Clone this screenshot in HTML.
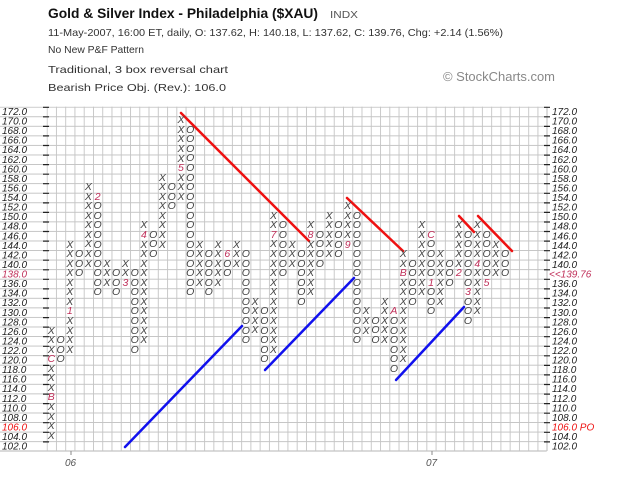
<!DOCTYPE html>
<html><head><meta charset="utf-8"><style>
body{margin:0;background:#fff;}
#w{position:relative;width:620px;height:479px;overflow:hidden;background:#fff;font-family:"Liberation Sans",sans-serif;}
svg{position:absolute;left:0;top:0;}
.c{position:absolute;width:9.26px;text-align:center;font:italic 10.5px "Liberation Sans",sans-serif;line-height:9.556px;color:#444;}
.c b{font-weight:normal;color:#c0305a;}
</style></head><body><div id="w">
<svg width="620" height="479" xmlns="http://www.w3.org/2000/svg">
<defs>
<pattern id="gv" x="46.7" y="0" width="9.26" height="479" patternUnits="userSpaceOnUse"><line x1="0.3" y1="0" x2="0.3" y2="479" stroke="#c4c4c4" stroke-width="1.2"/></pattern>
<pattern id="gh" x="0" y="106.7" width="620" height="9.556" patternUnits="userSpaceOnUse"><line x1="0" y1="0.3" x2="620" y2="0.3" stroke="#c4c4c4" stroke-width="1.2"/></pattern>
</defs>
<rect x="46.7" y="106.7" width="500" height="344" fill="url(#gv)"/>
<rect x="0" y="106.7" width="546.7" height="344.4" fill="url(#gh)"/>
<line x1="0" y1="451" x2="546.7" y2="451" stroke="#c4c4c4" stroke-width="1.2"/>
<line x1="547" y1="106.7" x2="547" y2="451" stroke="#c4c4c4" stroke-width="1.2"/>
<g stroke="#222" stroke-width="1.2">
<path d="M43 107.3h6M43 116.8h6M43 126.4h6M43 135.9h6M43 145.5h6M43 155.1h6M43 164.6h6M43 174.2h6M43 183.7h6M43 193.3h6M43 202.9h6M43 212.4h6M43 222h6M43 231.5h6M43 241.1h6M43 250.7h6M43 260.2h6M43 269.8h6M43 279.3h6M43 288.9h6M43 298.5h6M43 308h6M43 317.6h6M43 327.1h6M43 336.7h6M43 346.3h6M43 355.8h6M43 365.4h6M43 374.9h6M43 384.5h6M43 394.1h6M43 403.6h6M43 413.2h6M43 422.7h6M43 432.3h6M43 441.9h6"/>
<path d="M544 107.3h6M544 116.8h6M544 126.4h6M544 135.9h6M544 145.5h6M544 155.1h6M544 164.6h6M544 174.2h6M544 183.7h6M544 193.3h6M544 202.9h6M544 212.4h6M544 222h6M544 231.5h6M544 241.1h6M544 250.7h6M544 260.2h6M544 269.8h6M544 279.3h6M544 288.9h6M544 298.5h6M544 308h6M544 317.6h6M544 327.1h6M544 336.7h6M544 346.3h6M544 355.8h6M544 365.4h6M544 374.9h6M544 384.5h6M544 394.1h6M544 403.6h6M544 413.2h6M544 422.7h6M544 432.3h6M544 441.9h6"/>
</g>
<line x1="71" y1="451" x2="71" y2="455" stroke="#888"/>
<line x1="432" y1="451" x2="432" y2="455" stroke="#888"/>
<g font-family="Liberation Sans, sans-serif" font-style="italic" font-size="10" fill="#222">
<text x="2" y="115">172.0</text><text x="2" y="124.6">170.0</text><text x="2" y="134.1">168.0</text><text x="2" y="143.7">166.0</text><text x="2" y="153.2">164.0</text><text x="2" y="162.8">162.0</text><text x="2" y="172.4">160.0</text><text x="2" y="181.9">158.0</text><text x="2" y="191.5">156.0</text><text x="2" y="201">154.0</text><text x="2" y="210.6">152.0</text><text x="2" y="220.2">150.0</text><text x="2" y="229.7">148.0</text><text x="2" y="239.3">146.0</text><text x="2" y="248.8">144.0</text><text x="2" y="258.4">142.0</text><text x="2" y="268">140.0</text><text x="2" y="277.5" fill="#c0305a">138.0</text><text x="2" y="287.1">136.0</text><text x="2" y="296.6">134.0</text><text x="2" y="306.2">132.0</text><text x="2" y="315.8">130.0</text><text x="2" y="325.3">128.0</text><text x="2" y="334.9">126.0</text><text x="2" y="344.4">124.0</text><text x="2" y="354">122.0</text><text x="2" y="363.6">120.0</text><text x="2" y="373.1">118.0</text><text x="2" y="382.7">116.0</text><text x="2" y="392.2">114.0</text><text x="2" y="401.8">112.0</text><text x="2" y="411.4">110.0</text><text x="2" y="420.9">108.0</text><text x="2" y="430.5" fill="#ee1111">106.0</text><text x="2" y="440">104.0</text><text x="2" y="449.6">102.0</text>
<text x="552" y="115">172.0</text><text x="552" y="124.6">170.0</text><text x="552" y="134.1">168.0</text><text x="552" y="143.7">166.0</text><text x="552" y="153.2">164.0</text><text x="552" y="162.8">162.0</text><text x="552" y="172.4">160.0</text><text x="552" y="181.9">158.0</text><text x="552" y="191.5">156.0</text><text x="552" y="201">154.0</text><text x="552" y="210.6">152.0</text><text x="552" y="220.2">150.0</text><text x="552" y="229.7">148.0</text><text x="552" y="239.3">146.0</text><text x="552" y="248.8">144.0</text><text x="552" y="258.4">142.0</text><text x="552" y="268">140.0</text><text x="549" y="277.5" fill="#c0305a">&lt;&lt;139.76</text><text x="552" y="287.1">136.0</text><text x="552" y="296.6">134.0</text><text x="552" y="306.2">132.0</text><text x="552" y="315.8">130.0</text><text x="552" y="325.3">128.0</text><text x="552" y="334.9">126.0</text><text x="552" y="344.4">124.0</text><text x="552" y="354">122.0</text><text x="552" y="363.6">120.0</text><text x="552" y="373.1">118.0</text><text x="552" y="382.7">116.0</text><text x="552" y="392.2">114.0</text><text x="552" y="401.8">112.0</text><text x="552" y="411.4">110.0</text><text x="552" y="420.9">108.0</text><text x="552" y="430.5" fill="#ee1111">106.0 PO</text><text x="552" y="440">104.0</text><text x="552" y="449.6">102.0</text>
</g>
<g font-family="Liberation Sans, sans-serif" font-size="10" fill="#555" font-style="italic">
<text x="65" y="466">06</text><text x="426" y="466">07</text>
</g>
<g font-family="Liberation Sans, sans-serif">
<text x="48" y="18" font-size="14" font-weight="bold" fill="#111" textLength="270" lengthAdjust="spacingAndGlyphs">Gold &amp; Silver Index - Philadelphia ($XAU)</text>
<text x="330" y="18" font-size="10" fill="#555" textLength="28" lengthAdjust="spacingAndGlyphs">INDX</text>
<text x="48" y="36" font-size="10.5" fill="#333" textLength="455" lengthAdjust="spacingAndGlyphs">11-May-2007, 16:00 ET, daily, O: 137.62, H: 140.18, L: 137.62, C: 139.76, Chg: +2.14 (1.56%)</text>
<text x="48" y="53" font-size="10.5" fill="#333" textLength="96" lengthAdjust="spacingAndGlyphs">No New P&amp;F Pattern</text>
<text x="48" y="73" font-size="10.5" fill="#333" textLength="180" lengthAdjust="spacingAndGlyphs">Traditional, 3 box reversal chart</text>
<text x="48" y="91" font-size="10.5" fill="#333" textLength="178" lengthAdjust="spacingAndGlyphs">Bearish Price Obj. (Rev.): 106.0</text>
<text x="443" y="81" font-size="13" fill="#888" textLength="112" lengthAdjust="spacingAndGlyphs">© StockCharts.com</text>
</g>
<g stroke-width="2.5" stroke-linecap="round">
<line x1="181" y1="113" x2="309" y2="241" stroke="#ee1111"/>
<line x1="347" y1="198" x2="403" y2="251" stroke="#ee1111"/>
<line x1="459" y1="216" x2="474" y2="232" stroke="#ee1111"/>
<line x1="478" y1="216" x2="512" y2="251" stroke="#ee1111"/>
<line x1="125" y1="447" x2="242" y2="326" stroke="#1111ee"/>
<line x1="265" y1="370" x2="354" y2="278" stroke="#1111ee"/>
<line x1="396" y1="380" x2="464" y2="307" stroke="#1111ee"/>
</g>
</svg>
<div class="c" style="left:46.7px;top:326.5px">X<br>X<br>X<br><b>C</b><br>X<br>X<br>X<br><b>B</b><br>X<br>X<br>X<br>X</div>
<div class="c" style="left:55.96px;top:336px">O<br>O<br>O</div>
<div class="c" style="left:65.22px;top:240.5px">X<br>X<br>X<br>X<br>X<br>X<br>X<br><b>1</b><br>X<br>X<br>X<br>X</div>
<div class="c" style="left:74.48px;top:250px">O<br>O<br>O</div>
<div class="c" style="left:83.74px;top:183.1px">X<br>X<br>X<br>X<br>X<br>X<br>X<br>X<br>X</div>
<div class="c" style="left:93px;top:192.7px"><b>2</b><br>O<br>O<br>O<br>O<br>O<br>O<br>O<br>O<br>O<br>O</div>
<div class="c" style="left:102.26px;top:259.6px">X<br>X<br>X</div>
<div class="c" style="left:111.52px;top:269.2px">O<br>O<br>O</div>
<div class="c" style="left:120.78px;top:259.6px">X<br>X<br><b>3</b></div>
<div class="c" style="left:130.04px;top:269.2px">O<br>O<br>O<br>O<br>O<br>O<br>O<br>O<br>O</div>
<div class="c" style="left:139.3px;top:221.4px">X<br><b>4</b><br>X<br>X<br>X<br>X<br>X<br>X<br>X<br>X<br>X<br>X<br>X</div>
<div class="c" style="left:148.56px;top:230.9px">O<br>O<br>O</div>
<div class="c" style="left:157.82px;top:173.6px">X<br>X<br>X<br>X<br>X<br>X<br>X<br>X</div>
<div class="c" style="left:167.08px;top:183.1px">O<br>O<br>O</div>
<div class="c" style="left:176.34px;top:116.3px">X<br>X<br>X<br>X<br>X<br><b>5</b><br>X<br>X<br>X</div>
<div class="c" style="left:185.6px;top:125.8px">O<br>O<br>O<br>O<br>O<br>O<br>O<br>O<br>O<br>O<br>O<br>O<br>O<br>O<br>O<br>O<br>O<br>O</div>
<div class="c" style="left:194.86px;top:240.5px">X<br>X<br>X<br>X<br>X</div>
<div class="c" style="left:204.12px;top:250px">O<br>O<br>O<br>O<br>O</div>
<div class="c" style="left:213.38px;top:240.5px">X<br>X<br>X<br>X<br>X</div>
<div class="c" style="left:222.64px;top:250px"><b>6</b><br>O<br>O</div>
<div class="c" style="left:231.9px;top:240.5px">X<br>X<br>X</div>
<div class="c" style="left:241.16px;top:250px">O<br>O<br>O<br>O<br>O<br>O<br>O<br>O<br>O<br>O</div>
<div class="c" style="left:250.42px;top:297.8px">X<br>X<br>X<br>X</div>
<div class="c" style="left:259.68px;top:307.4px">O<br>O<br>O<br>O<br>O<br>O</div>
<div class="c" style="left:268.94px;top:211.8px">X<br>X<br><b>7</b><br>X<br>X<br>X<br>X<br>X<br>X<br>X<br>X<br>X<br>X<br>X<br>X</div>
<div class="c" style="left:278.2px;top:221.4px">O<br>O<br>O<br>O<br>O<br>O</div>
<div class="c" style="left:287.46px;top:240.5px">X<br>X<br>X</div>
<div class="c" style="left:296.72px;top:250px">O<br>O<br>O<br>O<br>O<br>O</div>
<div class="c" style="left:305.98px;top:221.4px">X<br><b>8</b><br>X<br>X<br>X<br>X<br>X<br>X</div>
<div class="c" style="left:315.24px;top:230.9px">O<br>O<br>O<br>O</div>
<div class="c" style="left:324.5px;top:211.8px">X<br>X<br>X<br>X<br>X</div>
<div class="c" style="left:333.76px;top:221.4px">O<br>O<br>O<br>O</div>
<div class="c" style="left:343.02px;top:202.3px">X<br>X<br>X<br>X<br><b>9</b></div>
<div class="c" style="left:352.28px;top:211.8px">O<br>O<br>O<br>O<br>O<br>O<br>O<br>O<br>O<br>O<br>O<br>O<br>O<br>O</div>
<div class="c" style="left:361.54px;top:307.4px">X<br>X<br>X</div>
<div class="c" style="left:370.8px;top:316.9px">O<br>O<br>O</div>
<div class="c" style="left:380.06px;top:297.8px">X<br>X<br>X<br>X<br>X</div>
<div class="c" style="left:389.32px;top:307.4px"><b>A</b><br>O<br>O<br>O<br>O<br>O<br>O</div>
<div class="c" style="left:398.58px;top:250px">X<br>X<br><b>B</b><br>X<br>X<br>X<br>X<br>X<br>X<br>X<br>X<br>X</div>
<div class="c" style="left:407.84px;top:259.6px">O<br>O<br>O<br>O<br>O</div>
<div class="c" style="left:417.1px;top:221.4px">X<br>X<br>X<br>X<br>X<br>X<br>X<br>X</div>
<div class="c" style="left:426.36px;top:230.9px"><b>C</b><br>O<br>O<br>O<br>O<br><b>1</b><br>O<br>O<br>O</div>
<div class="c" style="left:435.62px;top:250px">X<br>X<br>X<br>X<br>X<br>X</div>
<div class="c" style="left:444.88px;top:259.6px">O<br>O<br>O</div>
<div class="c" style="left:454.14px;top:221.4px">X<br>X<br>X<br>X<br>X<br><b>2</b></div>
<div class="c" style="left:463.4px;top:230.9px">O<br>O<br>O<br>O<br>O<br>O<br><b>3</b><br>O<br>O<br>O</div>
<div class="c" style="left:472.66px;top:221.4px">X<br>X<br>X<br>X<br><b>4</b><br>X<br>X<br>X<br>X<br>X</div>
<div class="c" style="left:481.92px;top:230.9px">O<br>O<br>O<br>O<br>O<br><b>5</b></div>
<div class="c" style="left:491.18px;top:240.5px">X<br>X<br>X<br>X</div>
<div class="c" style="left:500.44px;top:250px">O<br>O<br>O</div>
</div></body></html>
